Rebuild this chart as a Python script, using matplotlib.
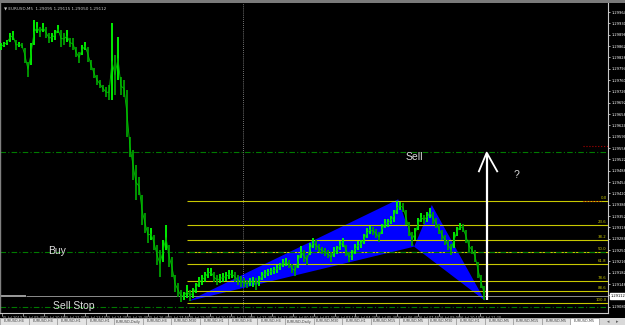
import matplotlib
matplotlib.use("Agg")
import matplotlib.pyplot as plt
from matplotlib.patches import Polygon, Rectangle
import numpy as np

# ---------------- data ----------------
bar_high = [1.29871, 1.29874, 1.29880, 1.29901, 1.29907, 1.29880, 1.29874, 1.29871, 1.29856, 1.29814,
            1.29871, 1.29940, 1.29934, 1.29919, 1.29931, 1.29919, 1.29901, 1.29901, 1.29910, 1.29925,
            1.29910, 1.29901, 1.29910, 1.29886, 1.29886, 1.29859, 1.29844, 1.29865, 1.29874, 1.29859,
            1.29820, 1.29796, 1.29775, 1.29760, 1.29745, 1.29739, 1.29745, 1.29931, 1.29835, 1.29889,
            1.29769, 1.29760, 1.29730, 1.29589, 1.29550, 1.29505, 1.29469, 1.29415, 1.29361, 1.29319,
            1.29316, 1.29295, 1.29265, 1.29250, 1.29280, 1.29325, 1.29265, 1.29229, 1.29175, 1.29151,
            1.29130, 1.29124, 1.29145, 1.29130, 1.29136, 1.29151, 1.29169, 1.29175, 1.29184, 1.29196,
            1.29196, 1.29184, 1.29175, 1.29178, 1.29181, 1.29184, 1.29190, 1.29190, 1.29184, 1.29175,
            1.29172, 1.29166, 1.29160, 1.29166, 1.29169, 1.29166, 1.29172, 1.29184, 1.29190, 1.29193,
            1.29196, 1.29199, 1.29205, 1.29211, 1.29223, 1.29226, 1.29220, 1.29208, 1.29205, 1.29235,
            1.29262, 1.29250, 1.29235, 1.29271, 1.29286, 1.29280, 1.29268, 1.29259, 1.29256, 1.29250,
            1.29244, 1.29259, 1.29262, 1.29277, 1.29286, 1.29265, 1.29244, 1.29250, 1.29268, 1.29277,
            1.29280, 1.29298, 1.29316, 1.29322, 1.29319, 1.29313, 1.29304, 1.29328, 1.29343, 1.29343,
            1.29352, 1.29370, 1.29397, 1.29394, 1.29391, 1.29370, 1.29334, 1.29304, 1.29316, 1.29346,
            1.29361, 1.29355, 1.29364, 1.29376, 1.29364, 1.29346, 1.29328, 1.29310, 1.29295, 1.29280,
            1.29268, 1.29304, 1.29319, 1.29331, 1.29328, 1.29310, 1.29280, 1.29262, 1.29250, 1.29214,
            1.29175, 1.29142]
bar_low = [1.29850, 1.29859, 1.29865, 1.29874, 1.29880, 1.29850, 1.29859, 1.29856, 1.29811, 1.29769,
           1.29805, 1.29865, 1.29901, 1.29889, 1.29904, 1.29886, 1.29871, 1.29874, 1.29880, 1.29901,
           1.29859, 1.29865, 1.29874, 1.29859, 1.29850, 1.29829, 1.29811, 1.29835, 1.29850, 1.29814,
           1.29790, 1.29766, 1.29745, 1.29736, 1.29724, 1.29709, 1.29700, 1.29700, 1.29715, 1.29760,
           1.29715, 1.29709, 1.29589, 1.29529, 1.29460, 1.29400, 1.29415, 1.29325, 1.29301, 1.29271,
           1.29280, 1.29250, 1.29205, 1.29169, 1.29214, 1.29250, 1.29199, 1.29169, 1.29124, 1.29109,
           1.29094, 1.29100, 1.29106, 1.29097, 1.29106, 1.29121, 1.29139, 1.29145, 1.29154, 1.29166,
           1.29172, 1.29154, 1.29145, 1.29151, 1.29154, 1.29157, 1.29163, 1.29166, 1.29154, 1.29145,
           1.29139, 1.29139, 1.29136, 1.29142, 1.29139, 1.29130, 1.29142, 1.29160, 1.29166, 1.29172,
           1.29175, 1.29178, 1.29181, 1.29190, 1.29199, 1.29202, 1.29196, 1.29181, 1.29172, 1.29196,
           1.29226, 1.29214, 1.29205, 1.29235, 1.29256, 1.29250, 1.29244, 1.29238, 1.29232, 1.29226,
           1.29214, 1.29229, 1.29238, 1.29250, 1.29259, 1.29232, 1.29214, 1.29220, 1.29238, 1.29250,
           1.29256, 1.29268, 1.29286, 1.29298, 1.29295, 1.29286, 1.29274, 1.29298, 1.29316, 1.29319,
           1.29328, 1.29334, 1.29358, 1.29370, 1.29364, 1.29325, 1.29292, 1.29262, 1.29280, 1.29310,
           1.29334, 1.29328, 1.29334, 1.29346, 1.29328, 1.29316, 1.29298, 1.29280, 1.29265, 1.29250,
           1.29235, 1.29256, 1.29292, 1.29310, 1.29304, 1.29271, 1.29244, 1.29238, 1.29214, 1.29166,
           1.29136, 1.29100]

# harmonic pattern points (bar index, price): X, A, B, C, D
pat_x = [62.3, 132.4, 137.7, 143.6, 161.3]
pat_p = [1.29096, 1.29402, 1.29260, 1.29385, 1.29098]

fib_levels = [1.29397, 1.29325, 1.29280, 1.29244, 1.29208, 1.29157, 1.29127, 1.29091]
fib_labels = ["0.0", "23.6", "38.2", "50.0", "61.8", "78.6", "88.6", "100.0"]
fib_start = 62.0

sell_level = 1.29544
buy_level = 1.29244
sellstop_level = 1.29079
bid_price = 1.29112
red_level = 1.29562

arrow_x = 161.9
arrow_bottom = 1.29100
arrow_tip = 1.29542
arrow_wing_x = [159.3, 165.4]
arrow_wing_p = 1.29486

vline_x = 80.67

time_labels = ["15 Jul 2013", "15 Jul 09:40", "15 Jul 10:50", "15 Jul 12:00", "15 Jul 13:10",
               "15 Jul 14:20", "15 Jul 15:30", "15 Jul 16:40", "15 Jul 17:50", "15 Jul 19:00",
               "15 Jul 20:10", "15 Jul 21:20", "15 Jul 22:30", "15 Jul 23:40", "16 Jul 00:50",
               "16 Jul 02:00", "16 Jul 03:10", "16 Jul 04:20", "16 Jul 05:30", "16 Jul 06:40",
               "16 Jul 07:50", "16 Jul 09:00", "16 Jul 10:10", "16 Jul 11:20"]

tab_labels = ["EURUSD,H4", "EURUSD,H4", "EURUSD,H1", "EURUSD,H1", "EURUSD,Daily", "EURUSD,H4",
              "EURUSD,M30", "EURUSD,H1", "EURUSD,H4", "EURUSD,H4", "EURUSD,Daily", "EURUSD,M30",
              "EURUSD,H1", "EURUSD,M15", "EURUSD,M5", "EURUSD,M30", "EURUSD,H1", "EURUSD,M5",
              "EURUSD,M15", "EURUSD,M5", "EURUSD,M5"]

header = "\u25bc EURUSD,M5  1.29095 1.29115 1.29050 1.29112"

# ---------------- figure ----------------
W, H = 625, 325
fig = plt.figure(figsize=(W / 100, H / 100), dpi=100, facecolor="black")

ax = fig.add_axes([0, 12 / H, 608 / W, 310 / H], facecolor="black")
ax.set_xlim(-1 / 3, 202.33)
ax.set_ylim(1.29061, 1.29991)

# blue pattern triangles
tri1 = Polygon([(pat_x[0], pat_p[0]), (pat_x[1], pat_p[1]), (pat_x[2], pat_p[2])],
               closed=True, facecolor="#0000ff", edgecolor="none", zorder=1)
tri2 = Polygon([(pat_x[2], pat_p[2]), (pat_x[3], pat_p[3]), (pat_x[4], pat_p[4])],
               closed=True, facecolor="#0000ff", edgecolor="none", zorder=1)
ax.add_patch(tri1)
ax.add_patch(tri2)

# fibonacci lines
for lev, lab in zip(fib_levels, fib_labels):
    ax.hlines(lev, fib_start, 202.33, colors="#c8c800", lw=0.8, zorder=2)
    ax.text(201.9, lev + 0.00002, lab, ha="right", va="bottom", fontsize=2.8,
            color="#c8c800", zorder=5)

# green dash-dot lines
for lev in (sell_level, buy_level, sellstop_level):
    ax.axhline(lev, color="#007a00", lw=0.8, linestyle=(0, (5, 2, 1, 2)), zorder=2)

# bid line
ax.hlines(bid_price, 8.3, 202.33, colors="#8c8c8c", lw=0.7, zorder=2)
ax.hlines(bid_price, -1 / 3, 8.3, colors="#a8a8a8", lw=1.3, zorder=2)

# red dotted short lines
ax.hlines(red_level, 194, 202.33, colors="#b00000", lw=0.8, linestyles=":", zorder=2)
ax.hlines(fib_levels[0], 194, 200, colors="#b00000", lw=0.8, linestyles=":", zorder=3)

# vertical dotted separator
ax.axvline(vline_x, color="#9a9a9a", lw=0.6, linestyle=(0, (1, 1.5)), zorder=2)

# candles
xs = np.arange(len(bar_high))
hi = np.array(bar_high)
lo = np.array(bar_low)
mid = (hi + lo) / 2
cols = ["#00ff00" if (i == 0 or mid[i] >= mid[i - 1]) else "#00a000" for i in range(len(mid))]
ax.vlines(xs, lo, hi, colors=cols, lw=1.3, zorder=3)
ax.plot(xs, mid, color="#00c000", lw=0.6, zorder=3)

# white arrow
ax.plot([arrow_x, arrow_x], [arrow_bottom, arrow_tip], color="white", lw=1.6,
        solid_capstyle="butt", zorder=6)
ax.plot([arrow_wing_x[0], arrow_x, arrow_wing_x[1]], [arrow_wing_p, arrow_tip, arrow_wing_p],
        color="white", lw=1.3, zorder=6)

# texts
tf = dict(fontsize=7.5, color="#dcdcdc", family=["Liberation Sans", "DejaVu Sans"], zorder=7)
ax.text(135.0, 1.29529, "Sell", ha="left", va="center", **tf)
ax.text(15.7, 1.29247, "Buy", ha="left", va="center", **tf)
ax.text(17.3, 1.29082, "Sell Stop", ha="left", va="center", **tf)
ax.text(171.8, 1.29474, "?", ha="center", va="center", **tf)

ax.text(0.007, 0.988, header, transform=ax.transAxes, ha="left", va="top",
        fontsize=3, color="#c8c8c8", family=["DejaVu Sans"])

# spines
ax.spines["top"].set_visible(False)
ax.spines["left"].set_color("#808080")
ax.spines["left"].set_linewidth(1.0)
ax.spines["right"].set_color("#c8c8c8")
ax.spines["right"].set_linewidth(0.8)
ax.spines["bottom"].set_color("#c8c8c8")
ax.spines["bottom"].set_linewidth(0.8)

# price axis
ax.yaxis.tick_right()
yt = np.arange(1.29964, 1.29061, -0.00034)
ax.set_yticks(yt)
ax.set_yticklabels([f"{v:.5f}" for v in yt])
ax.tick_params(axis="y", colors="white", labelsize=2.6, length=1.5, width=0.5, pad=0.8)

# time axis
xt = 0.33 + 6.93 * np.arange(len(time_labels))
ax.set_xticks(xt)
ax.set_xticklabels(time_labels)
ax.tick_params(axis="x", colors="#c8c8c8", labelsize=2.5, length=2, width=0.5, pad=0.5)
for t in ax.get_xticklabels():
    t.set_ha("left")

# current price box
ax.text(1.004, bid_price, f"{bid_price:.5f}", transform=ax.get_yaxis_transform(),
        ha="left", va="center", fontsize=2.6, color="black", zorder=10, clip_on=False,
        bbox=dict(boxstyle="square,pad=0.15", facecolor="white", edgecolor="white"))

# top grey border
fig.patches.append(Rectangle((0, 1 - 2.5 / H), 1, 2.5 / H, transform=fig.transFigure,
                             facecolor="#7a7a7a", edgecolor="none"))

# tab bar
tab = fig.add_axes([0, 0, 1, 7 / H], facecolor="#d8d8d8")
tab.set_xlim(0, W)
tab.set_ylim(0, 7)
tab.axis("off")
tab.add_patch(Rectangle((0, 0), W, 7, facecolor="#d8d8d8", edgecolor="none"))
tw = 28.5
for k, lab in enumerate(tab_labels):
    active = k == len(tab_labels) - 1
    tab.add_patch(Rectangle((k * tw, 0), tw, 7, facecolor="white" if active else "#e4e4e4",
                            edgecolor="#9a9a9a", lw=0.5))
    tab.text(k * tw + tw / 2, 3.5, lab, ha="center", va="center", fontsize=2.5,
             color="#404040")
tab.text(608, 3.5, "\u25c2", ha="center", va="center", fontsize=3.5, color="#606060")
tab.text(617, 3.5, "\u25b8", ha="center", va="center", fontsize=3.5, color="#606060")

fig.savefig("out.png", dpi=100, facecolor="black")
